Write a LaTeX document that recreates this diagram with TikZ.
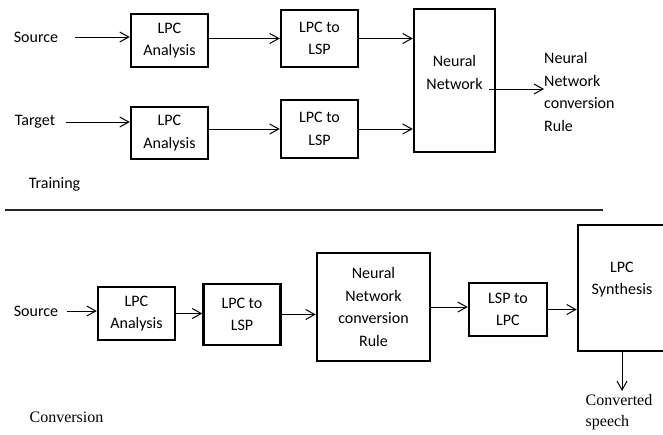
\documentclass[tikz,border=0pt]{standalone}
\usepackage{fontspec}
\setsansfont{Carlito}
\newfontfamily\speechfont{Liberation Serif}
\usepackage{tikz}
\usetikzlibrary{arrows.meta}

\tikzset{%
  >={Straight Barb[length=9pt,width=10pt]},
  % Specifications for style of nodes:
  base/.style = {rectangle, draw=black, line width=2.5pt,
    minimum width=77pt,
    minimum height=53pt,
    inner sep=0pt,
    text centered, font=\sffamily\fontsize{16}{22.5}\selectfont},
  plain/.style = {inner sep=0pt, font=\sffamily\fontsize{16}{22.5}\selectfont},
  serifnote/.style = {inner sep=0pt, font=\speechfont\fontsize{16}{21}\selectfont},
  flow/.style = {->, line width=1pt},
}

\begin{document}
\begin{tikzpicture}[x=1pt, y=-1pt, align=center]
  \clip (0,0) rectangle (663,434);
  % Training part
  \node(SrcA)[plain] at (36,37) {Source};
  \node(AnaA)[base] at (169.5,40.5) {LPC\\Analysis};
  \node(LspA)[base, minimum height=57pt] at (319.5,38.5) {LPC to\\LSP};
  \node(TgtB)[plain] at (35,122) {Target};
  \node(AnaB)[base, minimum height=52pt] at (169.5,133) {LPC\\Analysis};
  \node(LspB)[base, minimum height=58pt] at (319.5,129) {LPC to\\LSP};
  \node(Net)[base, minimum width=81pt, minimum height=143pt] at (454.5,80.5) {};
  \node(NetTxt)[plain] at (454.5,72.5) {Neural\\Network};
  \coordinate(NetOut) at (489,89);
  \node(Rule)[plain, anchor=west, align=left] at (544,92) {Neural\\Network\\conversion\\Rule};
  \node(Train)[plain] at (54.5,184) {Training};
  \draw[flow, shorten <=17pt](SrcA) -- (SrcA -| AnaA.west);
  \draw[flow](LspA.west -| AnaA.east) -- (LspA.west);
  \draw[flow](LspA) -- (LspA -| Net.west);
  \draw[flow, shorten <=11pt](TgtB) -- (TgtB -| AnaB.west);
  \draw[flow](LspB.west -| AnaB.east) -- (LspB.west);
  \draw[flow](LspB) -- (LspB -| Net.west);
  \draw[flow](NetOut) -- (NetOut -| Rule.west);

  % separation line
  \draw[line width=1.6pt, black!85] (5,210) -- (603,210);

  % Conversion part
  \node(SrcC)[plain] at (36,311) {Source};
  \node(AnaC)[base] at (136.5,313.5) {LPC\\Analysis};
  \node(LspC)[base, minimum height=61pt] at (242,314.5) {LPC to\\LSP};
  \node(RuleC)[base, minimum width=113pt, minimum height=108pt] at (373.5,307) {Neural\\Network\\conversion\\Rule};
  \node(LpcC)[base, minimum width=78pt] at (508,309.5) {LSP to\\LPC};
  \node(Syn)[base, minimum width=88pt, minimum height=126pt] at (622,288) {};
  \node(SynTxt)[plain] at (622,279.5) {LPC\\Synthesis};
  \node(Speech)[serifnote, align=left] at (619,412) {Converted\\speech};
  \node(Conv)[serifnote] at (66.5,417) {Conversion};
  \draw[flow, shorten <=9pt](SrcC) -- (SrcC -| AnaC.west);
  \draw[flow](AnaC) -- (AnaC -| LspC.west);
  \draw[flow](LspC) -- (LspC -| RuleC.west);
  \draw[flow](RuleC) -- (RuleC -| LpcC.west);
  \draw[flow](LpcC) -- (LpcC -| Syn.west);
  \draw[flow, shorten >=3pt](Syn.south) -- (Syn.south |- Speech.north);
\end{tikzpicture}
\end{document}
